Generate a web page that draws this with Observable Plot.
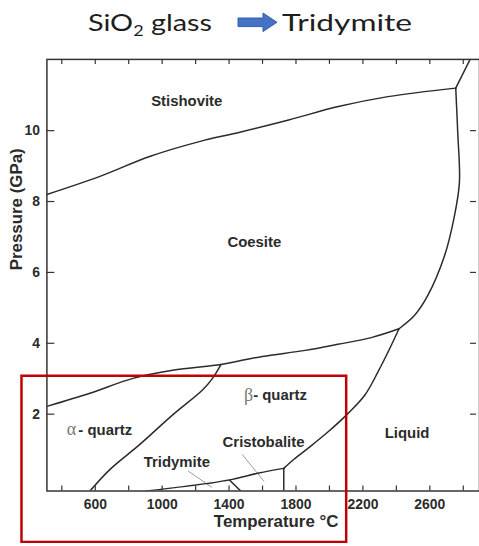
<!DOCTYPE html>
<html>
<head>
<meta charset="utf-8">
<script src="https://cdn.jsdelivr.net/npm/d3@7"></script>
<script src="https://cdn.jsdelivr.net/npm/@observablehq/plot@0.6"></script>
<style>
html, body { margin: 0; padding: 0; background: #fff; width: 479px; height: 546px; overflow: hidden; }
#title { display: block; }
#chart { width: 479px; overflow: hidden; }
</style>
</head>
<body>
<svg id="title" width="479" height="45">
  <text x="88" y="30.5" font-family="Lato, 'Open Sans', sans-serif" font-size="24" fill="#1e1e1e" textLength="124" lengthAdjust="spacingAndGlyphs">SiO<tspan font-size="15" dy="5">2</tspan><tspan dy="-5"> glass</tspan></text>
  <polygon points="238,18 263,18 263,13 277,22.3 263,31.6 263,26.6 238,26.6" fill="#4472C4" stroke="#3560a8" stroke-width="1"/>
  <text x="282" y="30.5" font-family="Lato, 'Open Sans', sans-serif" font-size="24" fill="#1e1e1e" textLength="130" lengthAdjust="spacingAndGlyphs">Tridymite</text>
</svg>
<div id="chart"></div>
<script>
// Axis ticks
const tempTicks = [400, 600, 800, 1000, 1200, 1400, 1600, 1800, 2000, 2200, 2400, 2600, 2800];
const tempTickLabels = [600, 1000, 1400, 1800, 2200, 2600];
const pressureTicks = [2, 4, 6, 8, 10];

// Phase boundaries: [temperature °C, pressure GPa]
const stishoviteCoesite = [[311, 8.20], [628, 8.71], [925, 9.27], [1222, 9.69], [1459, 9.95], [1756, 10.30], [2053, 10.68], [2350, 10.96], [2755, 11.20]];
const stishoviteLiquid = [[2755, 11.20], [2845, 12.05]];
const coesiteLiquid = [[2755, 11.20], [2767, 9.94], [2777, 8.54], [2747, 7.59], [2688, 6.47], [2588, 5.35], [2509, 4.79], [2416, 4.41]];
const quartzLiquid = [[2416, 4.41], [2351, 3.76], [2291, 3.20], [2212, 2.54], [2113, 2.03], [1994, 1.51], [1875, 1.05], [1786, 0.72], [1727, 0.47]];
const coesiteQuartz = [[311, 2.22], [568, 2.59], [825, 3.01], [1063, 3.24], [1351, 3.40], [1459, 3.50], [1600, 3.63], [1856, 3.80], [2050, 3.97], [2250, 4.16], [2416, 4.41]];
const alphaBetaQuartz = [[1351, 3.40], [1301, 3.01], [1241, 2.68], [1063, 1.98], [865, 1.14], [690, 0.45], [568, -0.17]];
const quartzTridymite = [[905, -0.17], [1262, 0.04], [1420, 0.16], [1578, 0.34], [1727, 0.47]];
const tridymiteCristobalite = [[1405, 0.13], [1470, -0.17]];
const cristobaliteLiquid = [[1727, 0.47], [1727, -0.17]];

// Label leader lines
const tridymiteLeader = [[1157, 0.39], [1296, -0.06]];
const cristobaliteLeader = [[1479, 0.86], [1608, 0.11]];

// Phase field labels
const phaseNames = ["Stishovite", "Coesite", "Cristobalite", "Tridymite", "Liquid"];
const phaseT = [1147, 1551, 1606, 1088, 2464];
const phaseP = [10.82, 6.84, 1.21, 0.645, 1.47];

const quartzGreek = ["α", "β"];
const quartzGreekT = [430, 1489];
const quartzRest = ["- quartz", "- quartz"];
const quartzRestT = [499, 1544];
const quartzP = [1.56, 2.54];

// Highlight box (T range, P range)
const highlightT = [162, 2103];
const highlightP = [-1.62, 3.07];

const boundarySets = {stishoviteCoesite, stishoviteLiquid, coesiteLiquid, quartzLiquid, coesiteQuartz, alphaBetaQuartz, quartzTridymite, tridymiteCristobalite, cristobaliteLiquid};
const boundaries = Object.entries(boundarySets).flatMap(([id, pts]) => pts.map(([T, P]) => ({id, T, P})));
const leaders = Object.entries({tridymiteLeader, cristobaliteLeader}).flatMap(([id, pts]) => pts.map(([T, P]) => ({id, T, P})));
const phaseLabels = phaseNames.map((name, i) => ({name, T: phaseT[i], P: phaseP[i]}));
const quartzLabels = quartzGreek.map((g, i) => ({g, rest: quartzRest[i], gT: quartzGreekT[i], rT: quartzRestT[i], P: quartzP[i]}));
const box = [{x1: highlightT[0], x2: highlightT[1], y1: highlightP[0], y2: highlightP[1]}];

const ink = "#2b2b2b";
const sans = "'Liberation Sans', Arial, sans-serif";
const plain = d => String(d);

const W = 482, H = 501, mT = 14, mB = 52.7, mL = 46.7, mR = 0;
const plotW = W - mL - mR, plotH = H - mT - mB;
const tickStyle = {stroke: "#333", strokeWidth: 1.2};

const chart = Plot.plot({
  width: W,
  height: H,
  marginTop: mT,
  marginBottom: mB,
  marginLeft: mL,
  marginRight: mR,
  x: {domain: [311, 2897], label: null},
  y: {domain: [-0.168, 12.01], label: null},
  style: {fontFamily: sans, color: ink, background: "white", overflow: "visible"},
  marks: [
    Plot.line(leaders, {x: "T", y: "P", z: "id", stroke: "#9a9a9a", strokeWidth: 1}),
    Plot.line(boundaries, {x: "T", y: "P", z: "id", curve: "catmull-rom", stroke: ink, strokeWidth: 1.5, clip: true}),
    Plot.text(phaseLabels, {x: "T", y: "P", text: "name", fontSize: 15, fontWeight: "bold", fill: ink}),
    Plot.text(quartzLabels, {x: "gT", y: "P", text: "g", textAnchor: "start", fontSize: 18, fontFamily: "'Liberation Serif', 'DejaVu Serif', serif", fill: "#777"}),
    Plot.text(quartzLabels, {x: "rT", y: "P", text: "rest", textAnchor: "start", fontSize: 15, fontWeight: "bold", fill: ink}),
    // inward tick marks
    Plot.tickX(tempTicks, {x: d => d, insetTop: plotH - 5, ...tickStyle}),
    Plot.tickX(tempTicks, {x: d => d, insetBottom: plotH - 5, ...tickStyle}),
    Plot.tickY(pressureTicks, {y: d => d, insetRight: plotW - 8, ...tickStyle}),
    Plot.tickY(pressureTicks, {y: d => d, insetLeft: plotW - 9, insetRight: 3, ...tickStyle}),
    Plot.frame({stroke: "#333", strokeWidth: 1.5}),
    Plot.axisX(tempTickLabels, {anchor: "bottom", tickSize: 0, tickPadding: 8, tickFormat: plain, fontSize: 14, fontWeight: "bold", fill: ink, label: null}),
    Plot.axisY(pressureTicks, {anchor: "left", tickSize: 0, tickPadding: 7, tickFormat: plain, fontSize: 14, fontWeight: "bold", fill: ink, label: null}),
    Plot.text(["Pressure (GPa)"], {frameAnchor: "left", rotate: -90, dx: -30.7, dy: -5, fontSize: 17, fontWeight: "bold", fill: ink}),
    Plot.text(["Temperature °C"], {frameAnchor: "bottom", dx: 13, dy: 36.7, fontSize: 17, fontWeight: "bold", fill: ink}),
    Plot.rect(box, {x1: "x1", x2: "x2", y1: "y1", y2: "y2", fill: "none", stroke: "#c00000", strokeWidth: 2.5, clip: false})
  ]
});
document.getElementById("chart").appendChild(chart);
</script>
</body>
</html>
